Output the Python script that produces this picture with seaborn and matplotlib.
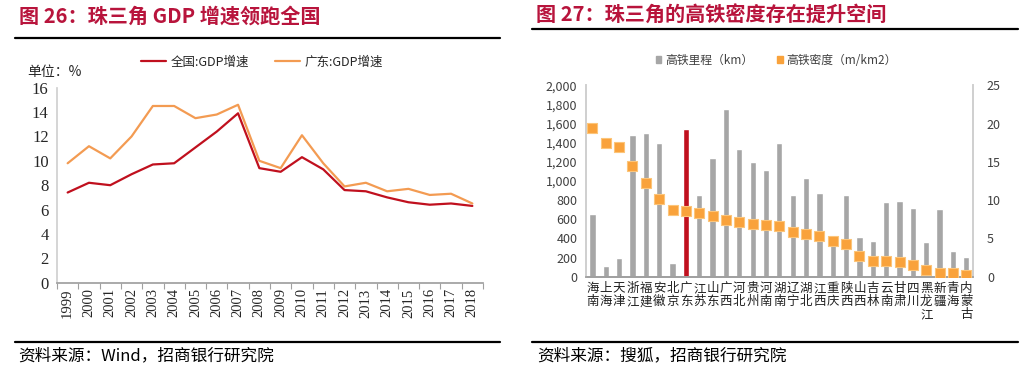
import numpy as np
import pandas as pd
import matplotlib
matplotlib.use("Agg")
import matplotlib.pyplot as plt
import seaborn as sns
from matplotlib.lines import Line2D
from matplotlib.patches import Patch
from matplotlib.ticker import FuncFormatter, MultipleLocator

# 左图: GDP 增速 (%)
years = list(range(1999, 2019))
gdp_china = [7.4, 8.2, 8.0, 8.9, 9.7, 9.8, 11.1, 12.4, 13.9, 9.4,
             9.1, 10.3, 9.3, 7.6, 7.5, 7.0, 6.6, 6.4, 6.5, 6.3]
gdp_guangdong = [9.8, 11.2, 10.2, 12.0, 14.5, 14.5, 13.5, 13.8, 14.6, 10.0,
                 9.4, 12.1, 9.8, 7.9, 8.2, 7.5, 7.7, 7.2, 7.3, 6.5]

# 右图: 高铁里程 (km) 和 高铁密度 (m/km2)
provinces = ["海南", "上海", "天津", "浙江", "福建", "安徽", "北京", "广东", "江苏", "山东",
             "广西", "河北", "贵州", "河南", "湖南", "辽宁", "湖北", "江西", "重庆", "陕西",
             "山西", "吉林", "云南", "甘肃", "四川", "黑龙江", "新疆", "青海", "内蒙古"]
hsr_km = [653, 110, 200, 1480, 1500, 1400, 140, 1540, 850, 1240,
          1750, 1330, 1200, 1110, 1400, 850, 1030, 870, 380, 850,
          410, 370, 780, 790, 720, 360, 710, 270, 210]
hsr_density = [19.4, 17.4, 17.0, 14.4, 12.3, 10.2, 8.7, 8.6, 8.3, 7.9,
               7.4, 7.1, 6.9, 6.75, 6.6, 5.8, 5.6, 5.3, 4.7, 4.3,
               2.7, 2.1, 2.0, 1.9, 1.5, 0.9, 0.45, 0.45, 0.2]

RED = "#C0101E"
ORANGE = "#F39B52"
TITLE_RED = "#B8143C"
BAR_GRAY = "#A6A6A6"
DOT_ORANGE = "#F9A23B"
TXT = "#404040"

sns.set_theme(style="white")
plt.rcParams['font.family'] = ['Noto Sans CJK SC', 'DejaVu Sans']

W, H = 1029, 372
fig = plt.figure(figsize=(W / 100, H / 100), dpi=100)


def box(x0, y0, x1, y1):
    return [x0 / W, 1 - y1 / H, (x1 - x0) / W, (y1 - y0) / H]


def px(x, y):
    return x / W, 1 - y / H


# 标题和底部说明
fig.text(*px(19, 16), "图 26：珠三角 GDP 增速领跑全国", color=TITLE_RED, fontsize=14.5,
         fontweight="bold", va="center", ha="left")
fig.text(*px(536, 15), "图 27：珠三角的高铁密度存在提升空间", color=TITLE_RED, fontsize=14.5,
         fontweight="bold", va="center", ha="left")
for (x0, x1, y) in [(15, 500, 38), (532, 1018, 29), (15, 500, 342), (532, 1018, 342)]:
    fig.add_artist(Line2D([x0 / W, x1 / W], [1 - y / H] * 2, color="black", linewidth=1.6))
fig.text(*px(18, 356), "资料来源：Wind，招商银行研究院", fontsize=12, color="black", va="center")
fig.text(*px(537, 356), "资料来源：搜狐，招商银行研究院", fontsize=12, color="black", va="center")

# 左图
ax1 = fig.add_axes(box(57, 87.7, 483, 282.7))
df1 = pd.DataFrame({
    "year": years * 2,
    "value": gdp_china + gdp_guangdong,
    "series": ["全国:GDP增速"] * len(years) + ["广东:GDP增速"] * len(years),
})
sns.lineplot(data=df1, x="year", y="value", hue="series", palette=[RED, ORANGE],
             linewidth=1.6, ax=ax1, legend=False)
ax1.set_xlim(years[0] - 0.5, years[-1] + 0.5)
ax1.set_ylim(0, 16)
ax1.yaxis.set_major_locator(MultipleLocator(2))
ax1.set_xticks(years)
ax1.set_xticklabels([str(y) for y in years], rotation=90, family="Liberation Serif", fontsize=10.5)
ax1.set_xticks(np.arange(years[0] - 0.5, years[-1] + 1, 1), minor=True)
ax1.tick_params(axis="x", which="major", length=0, pad=4)
ax1.tick_params(axis="x", which="minor", length=4, color="#A0A0A0", width=0.8, bottom=True)
ax1.tick_params(axis="y", length=0, pad=6)
for lab in ax1.get_yticklabels():
    lab.set_family("Liberation Serif")
    lab.set_fontsize(12)
ax1.set_xlabel("")
ax1.set_ylabel("")
for s in ["top", "right"]:
    ax1.spines[s].set_visible(False)
ax1.spines["left"].set_color("#D0D0D0")
ax1.spines["bottom"].set_color("#A0A0A0")
fig.text(*px(27, 72), "单位：%", fontsize=10, va="center")
h1 = [Line2D([], [], color=RED, linewidth=1.6), Line2D([], [], color=ORANGE, linewidth=1.6)]
fig.legend(h1, ["全国:GDP增速", "广东:GDP增速"], loc="center", bbox_to_anchor=px(262, 62),
           ncol=2, frameon=False, fontsize=9, handlelength=2.0, columnspacing=2.0,
           handletextpad=0.4)

# 右图
ax2 = fig.add_axes(box(585.7, 85.3, 973, 276.7))
df2 = pd.DataFrame({"province": provinces, "km": hsr_km, "density": hsr_density})
bar_colors = [RED if p == "广东" else BAR_GRAY for p in provinces]
sns.barplot(data=df2, x="province", y="km", hue="province", palette=bar_colors,
            saturation=1, width=0.47, legend=False, ax=ax2)
ax2.set_ylim(0, 2000)
ax2.set_xlim(-0.5, len(provinces) - 0.5)
ax2.yaxis.set_major_locator(MultipleLocator(200))
ax2.yaxis.set_major_formatter(FuncFormatter(lambda v, _: f"{int(v):,}"))
ax2.set_xticks(range(len(provinces)))
ax2.set_xticklabels(["\n".join(p) for p in provinces], fontsize=9, linespacing=1.0,
                    va="top", color="#202020")
ax2.tick_params(axis="x", length=0, pad=4)
ax2.tick_params(axis="y", length=0, pad=6, labelsize=9, labelcolor=TXT)
ax2.set_xlabel("")
ax2.set_ylabel("")

ax3 = ax2.twinx()
sns.scatterplot(x=df2.index, y=df2["density"], marker="s", s=48, color=DOT_ORANGE,
                edgecolor="#FCC57A", linewidth=0.8, ax=ax3, zorder=5)
ax3.set_ylim(0, 25)
ax3.yaxis.set_major_locator(MultipleLocator(5))
ax3.tick_params(axis="y", length=0, pad=10, labelsize=9, labelcolor=TXT)
ax3.set_ylabel("")
for a in (ax2, ax3):
    a.spines["top"].set_visible(False)
    a.spines["left"].set_color("#D0D0D0")
    a.spines["right"].set_color("#D0D0D0")
    a.spines["bottom"].set_color("#A0A0A0")

h2 = [Patch(color=BAR_GRAY), Patch(color=DOT_ORANGE)]
fig.legend(h2, ["高铁里程（km）", "高铁密度（m/km2）"], loc="center", bbox_to_anchor=px(776, 60),
           ncol=2, frameon=False, fontsize=8.5, handlelength=0.5, handleheight=0.5,
           columnspacing=2.0, handletextpad=0.3, labelcolor=TXT)

fig.savefig("out.png", dpi=100)
